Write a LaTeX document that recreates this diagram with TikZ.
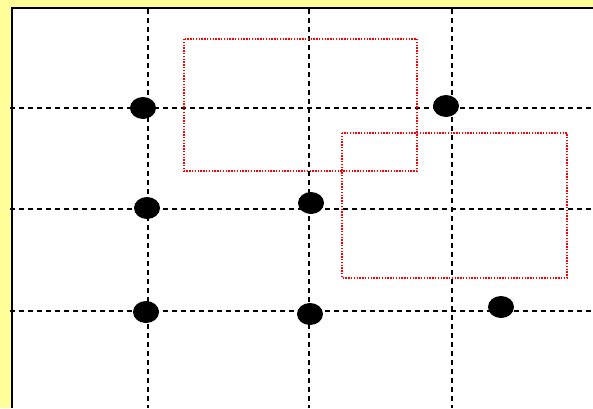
\documentclass[tikz,border=0pt]{standalone}
\usepackage{xcolor}
\usepackage{tikz}
\usetikzlibrary{positioning,shapes.geometric}
\definecolor{frameYellow}{HTML}{FFFF99}
\definecolor{boxRed}{HTML}{FF0000}

\begin{document}
\begin{tikzpicture}[x=1pt,y=-1pt,
  gridline/.style={black,line width=1.3pt,dash pattern=on 5pt off 4pt},
  dotnode/.style={ellipse,fill=black,minimum width=26pt,minimum height=22pt,inner sep=0pt},
  redbox/.style={boxRed,line width=1.4pt,dash pattern=on 1.4pt off 1.4pt}]
  \useasboundingbox (0,0) rectangle (593,408);
  \fill[frameYellow] (0,0) rectangle (593,408);
  \fill[white] (12,8) rectangle (593,408);
  \draw[line width=2pt] (12,408) -- (12,8) -- (593,8);
  % grid
  \foreach \gx in {148,309,452}{
    \draw[gridline] (\gx,9) -- (\gx,408);
  }
  \foreach \gy in {108,209,311}{
    \draw[gridline] (10,\gy) -- (593,\gy);
  }
  % windows
  \draw[redbox] (184,39) rectangle (417,171);
  \draw[redbox] (342,133) rectangle (567,278);
  % points
  \node[dotnode] (p1) at (143,108) {};
  \node[dotnode] (p2) at (446,106) {};
  \node[dotnode] (p3) at (147,208) {};
  \node[dotnode] (p4) at (311,203) {};
  \node[dotnode] (p5) at (146,312) {};
  \node[dotnode] (p6) at (310,314) {};
  \node[dotnode] (p7) at (501,307) {};
\end{tikzpicture}
\end{document}
